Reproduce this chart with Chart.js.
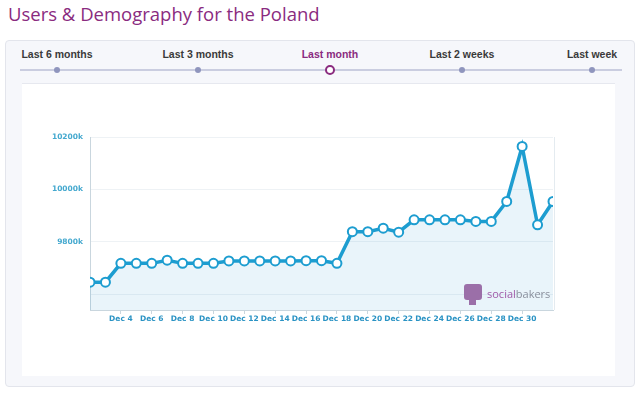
<!DOCTYPE html>
<html>
<head>
<meta charset="utf-8">
<script src="https://cdn.jsdelivr.net/npm/chart.js@4/dist/chart.umd.min.js"></script>
<style>
    body { margin: 0; width: 640px; height: 394px; background: #fff; position: relative; overflow: hidden; font-family: "Liberation Sans", Arial, sans-serif; }
    h1 { position: absolute; left: 8px; top: 1px; margin: 0; font: 18.5px "Open Sans", sans-serif; color: #8a2b7f; }
    .card { position: absolute; left: 5px; top: 40px; width: 628px; height: 345px; background: #f6f7fb; border: 1px solid #e3e5ec; border-radius: 4px; }
    .panel { position: absolute; left: 22px; top: 83px; width: 593px; height: 292px; background: #fff; border-top: 1px solid #e6e8ef; }
    .nav-line { position: absolute; left: 20px; top: 69px; width: 602px; height: 2px; background: #cacde0; }
    .nav-label { position: absolute; top: 48px; font-weight: bold; font-size: 10.5px; color: #3a3a3a; transform: translateX(-50%); white-space: nowrap; }
    .nav-label.active { color: #8a2b7f; }
    .nav-dot { position: absolute; top: 67px; width: 6px; height: 6px; margin-left: -3px; border-radius: 50%; background: #8f95bd; }
    .nav-dot.active { top: 65px; width: 6px; height: 6px; margin-left: -5px; background: #fff; border: 2px solid #8a2b7f; }
    #wrap { position: absolute; left: 30px; top: 120px; width: 540px; height: 215px; }
    .sb { position: absolute; left: 464px; top: 284px; }
    .sb-icon { position: absolute; left: 0; top: 0; width: 18px; height: 16px; background: #9b6fa8; border-radius: 3px; }
    .sb-tail { position: absolute; left: 5px; top: 15px; width: 7px; height: 6px; background: #9b6fa8; }
    .sb-text { position: absolute; left: 23px; top: 2px; font: 11px "Open Sans", sans-serif; color: #8a8f9c; white-space: nowrap; }
    .sb-text b { font-weight: normal; color: #a05aa8; }
</style>
</head>
<body>
<h1>Users &amp; Demography for the Poland</h1>
<div class="card"></div>
<div class="panel"></div>
<div class="nav-line"></div>
<div id="nav"></div>
<div id="wrap"><canvas id="chart"></canvas></div>
<div class="sb"><div class="sb-icon"></div><div class="sb-tail"></div><div class="sb-text"><b>social</b>bakers</div></div>
<script>
// Daily user counts (thousands), Dec 2 .. Jan 1
const days = ['Dec 2', 'Dec 3', 'Dec 4', 'Dec 5', 'Dec 6', 'Dec 7', 'Dec 8', 'Dec 9', 'Dec 10', 'Dec 11',
    'Dec 12', 'Dec 13', 'Dec 14', 'Dec 15', 'Dec 16', 'Dec 17', 'Dec 18', 'Dec 19', 'Dec 20', 'Dec 21',
    'Dec 22', 'Dec 23', 'Dec 24', 'Dec 25', 'Dec 26', 'Dec 27', 'Dec 28', 'Dec 29', 'Dec 30', 'Dec 31', 'Jan 1'];
const users = [9646, 9646, 9718, 9718, 9718, 9730, 9718, 9718, 9718, 9727,
    9727, 9727, 9727, 9727, 9728, 9728, 9718, 9839, 9839, 9852,
    9837, 9884, 9884, 9884, 9884, 9878, 9878, 9954, 10164, 9865, 9954];
const xTickLabels = ['Dec 4', 'Dec 6', 'Dec 8', 'Dec 10', 'Dec 12', 'Dec 14', 'Dec 16', 'Dec 18',
    'Dec 20', 'Dec 22', 'Dec 24', 'Dec 26', 'Dec 28', 'Dec 30'];
const yTicks = [9600, 9800, 10000, 10200];
const yTickLabels = [9800, 10000, 10200];

// Period selector
const periods = ['Last 6 months', 'Last 3 months', 'Last month', 'Last 2 weeks', 'Last week'];
const periodPos = [57, 198, 330, 462, 592];
const activePeriod = 'Last month';

function buildNav() {
    const nav = document.getElementById('nav');
    periods.forEach((p, i) => {
        const active = p === activePeriod ? ' active' : '';
        nav.innerHTML += `<div class="nav-label${active}" style="left:${periodPos[i]}px">${p}</div>` +
            `<div class="nav-dot${active}" style="left:${periodPos[i]}px"></div>`;
    });
}

function initializeChart() {
    const ctx = document.getElementById('chart').getContext('2d');
    const tickFont = { family: 'DejaVu Sans', size: 7.5, weight: 'bold' };
    new Chart(ctx, {
        type: 'line',
        data: {
            labels: days,
            datasets: [{
                data: users,
                borderColor: '#1d9dd0',
                borderWidth: 3.5,
                backgroundColor: 'rgba(40, 145, 205, 0.1)',
                fill: 'start',
                tension: 0,
                clip: { left: 0, right: 0, top: false, bottom: false },
                pointRadius: 4.5,
                pointBorderWidth: 2,
                pointBackgroundColor: '#fff',
                pointBorderColor: '#1d9dd0'
            }]
        },
        options: {
            responsive: true,
            maintainAspectRatio: false,
            animation: false,
            layout: { padding: { top: 17, right: 17, left: 0, bottom: 0 } },
            plugins: { legend: { display: false }, tooltip: { enabled: false } },
            scales: {
                x: {
                    offset: false,
                    border: { color: '#c9d6de' },
                    grid: {
                        drawOnChartArea: false,
                        tickLength: 4,
                        color: (c) => xTickLabels.includes(days[c.index]) ? '#c9d6de' : 'rgba(0,0,0,0)'
                    },
                    ticks: {
                        autoSkip: false,
                        maxRotation: 0,
                        padding: 1,
                        color: '#2a93c4',
                        font: tickFont,
                        callback: (v, i) => xTickLabels.includes(days[i]) ? days[i] : ''
                    },
                    afterFit: (s) => { s.height = 25; }
                },
                y: {
                    min: 9540,
                    max: 10200,
                    border: { color: '#c9d6de' },
                    grid: { color: '#eef2f5', drawTicks: false },
                    afterBuildTicks: (s) => { s.ticks = yTicks.map(v => ({ value: v })); },
                    ticks: {
                        padding: 7,
                        color: '#45a9cf',
                        font: tickFont,
                        callback: (v) => yTickLabels.includes(v) ? v + 'k' : ''
                    },
                    afterFit: (s) => { s.width = 60; }
                }
            }
        },
        plugins: [{
            id: 'rightEdge',
            afterDraw(chart) {
                const a = chart.chartArea, c = chart.ctx;
                c.save();
                c.strokeStyle = '#e4ebf0';
                c.lineWidth = 1;
                c.beginPath();
                c.moveTo(a.right + 1.5, a.top);
                c.lineTo(a.right + 1.5, a.bottom);
                c.stroke();
                c.restore();
            }
        }]
    });
}

buildNav();
initializeChart();
</script>
</body>
</html>
